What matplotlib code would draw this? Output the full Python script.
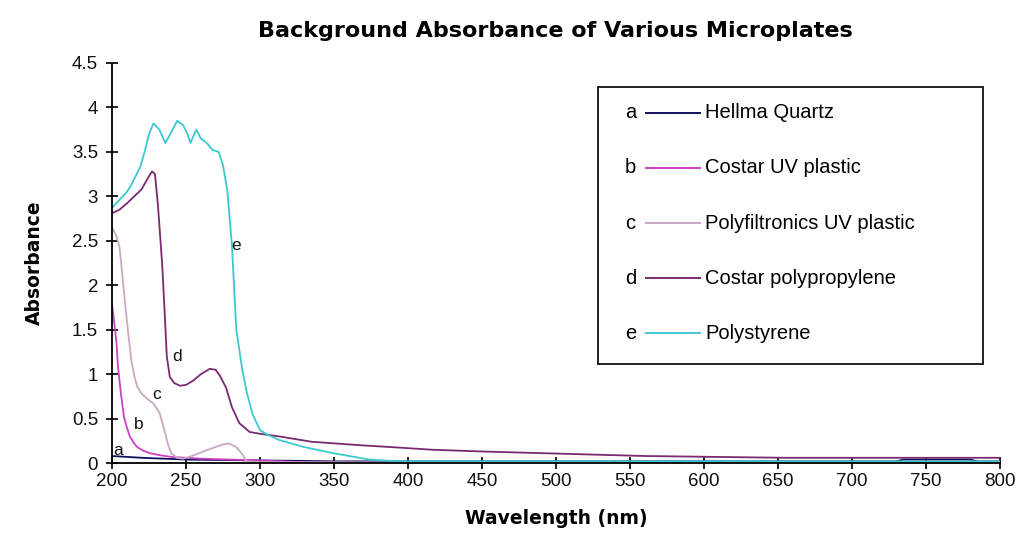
import matplotlib
matplotlib.use('Agg')
import matplotlib.pyplot as plt
from matplotlib.patches import Rectangle
from matplotlib.lines import Line2D

plt.rcParams['font.family'] = ['Liberation Sans', 'DejaVu Sans']

# Daten
a_wl = [200, 210, 220, 235, 250, 275, 300, 330, 350, 400, 500, 600, 700, 730, 735, 780, 785, 800]
a_abs = [0.08, 0.07, 0.06, 0.05, 0.04, 0.035, 0.03, 0.025, 0.02, 0.02, 0.02, 0.02, 0.02, 0.02, 0.04, 0.04, 0.02, 0.02]

b_wl = [200, 201, 203, 204, 206, 208, 210, 212, 215, 217, 221, 226, 232, 240, 260, 280, 300, 330, 400, 800]
b_abs = [1.78, 1.65, 1.35, 1.08, 0.78, 0.52, 0.40, 0.30, 0.22, 0.18, 0.14, 0.11, 0.09, 0.07, 0.05, 0.04, 0.03, 0.01, 0.0, 0.0]

c_wl = [200, 203, 205, 207, 209, 211, 213, 215, 217, 220, 224, 228, 232, 234, 236, 238, 240, 244, 248,
        254, 260, 268, 275, 279, 284, 288, 291, 300, 400, 800]
c_abs = [2.65, 2.55, 2.43, 2.10, 1.76, 1.45, 1.16, 0.98, 0.86, 0.78, 0.72, 0.67, 0.57, 0.45, 0.33, 0.20, 0.11, 0.06, 0.05,
         0.08, 0.12, 0.17, 0.21, 0.22, 0.18, 0.10, 0.02, 0.01, 0.01, 0.01]

d_wl = [200, 205, 210, 215, 220, 224, 227, 229, 231, 234, 237, 239, 242, 246, 250, 255, 260, 266, 270, 273,
        277, 281, 286, 293, 300, 313, 335, 369, 389, 417, 452, 495, 560, 655, 800]
d_abs = [2.81, 2.85, 2.92, 3.00, 3.08, 3.20, 3.28, 3.25, 2.90, 2.20, 1.20, 0.97, 0.90, 0.87, 0.88, 0.93, 1.00, 1.06, 1.05, 0.98,
         0.85, 0.63, 0.45, 0.35, 0.33, 0.30, 0.24, 0.20, 0.18, 0.15, 0.13, 0.11, 0.08, 0.06, 0.06]

e_wl = [200, 205, 210, 213, 219, 222, 225, 228, 232, 236, 240, 244, 248, 251, 253, 255, 257, 260, 264, 268,
        272, 275, 278, 281, 284, 288, 291, 295, 300, 305, 313, 330, 350, 374, 394, 450, 600, 800]
e_abs = [2.87, 2.96, 3.05, 3.13, 3.33, 3.50, 3.70, 3.82, 3.75, 3.60, 3.72, 3.85, 3.80, 3.70, 3.60, 3.68, 3.75, 3.65, 3.60, 3.52,
         3.50, 3.35, 3.05, 2.45, 1.50, 1.05, 0.80, 0.55, 0.37, 0.32, 0.26, 0.18, 0.11, 0.04, 0.02, 0.02, 0.02, 0.02]

letters = ['a', 'b', 'c', 'd', 'e']
names = ['Hellma Quartz', 'Costar UV plastic', 'Polyfiltronics UV plastic', 'Costar polypropylene', 'Polystyrene']
colors = ['#10105e', '#cc40c4', '#c8a8c4', '#7a2a70', '#3cc8d0']

# Positionen der Kurvenbeschriftungen (nm, Absorbance)
label_x = [204, 218, 230, 244, 284]
label_y = [0.14, 0.43, 0.77, 1.2, 2.45]

x_ticks = list(range(200, 801, 50))
y_ticks = [0, 0.5, 1, 1.5, 2, 2.5, 3, 3.5, 4, 4.5]

fig = plt.figure(figsize=(10.19, 5.52), dpi=100)
ax = fig.add_axes([0.110, 0.161, 0.871, 0.725])

series = [(a_wl, a_abs), (b_wl, b_abs), (c_wl, c_abs), (d_wl, d_abs), (e_wl, e_abs)]
for (wl, ab), col in zip(series, colors):
    ax.plot(wl, ab, color=col, lw=1.3)

for let, lx, ly in zip(letters, label_x, label_y):
    ax.text(lx, ly, let, fontsize=12.5, ha='center', va='center', color='#111111')

ax.set_xlim(200, 800)
ax.set_ylim(0, 4.5)
ax.set_xticks(x_ticks)
ax.set_yticks(y_ticks)
ax.set_yticklabels([f'{v:g}' for v in y_ticks])
ax.spines['top'].set_visible(False)
ax.spines['right'].set_visible(False)
ax.spines['left'].set_linewidth(1.3)
ax.spines['bottom'].set_linewidth(1.3)
ax.tick_params(direction='inout', length=8, width=1.3, labelsize=13.5, pad=3, colors='#111111')
ax.tick_params(axis='y', pad=6)

bold = ['DejaVu Sans']
ax.set_title('Background Absorbance of Various Microplates', fontsize=16, fontweight='bold',
             family=bold, pad=19)
ax.set_xlabel('Wavelength (nm)', fontsize=13.5, fontweight='bold', family=bold, labelpad=14)
ax.set_ylabel('Absorbance', fontsize=13.5, fontweight='bold', family=bold, labelpad=20)

# Legende im Excel-Stil: Buchstabe, Linie, Name
box = Rectangle((0.547, 0.248), 0.434, 0.693, transform=ax.transAxes, fill=False,
                edgecolor='#111111', lw=1.3, zorder=5)
ax.add_patch(box)
for i, (let, name, col) in enumerate(zip(letters, names, colors)):
    yy = 0.875 - i * 0.1375
    ax.text(0.584, yy, let, transform=ax.transAxes, fontsize=14.5, ha='center', va='center')
    ax.add_line(Line2D([0.602, 0.662], [yy, yy], transform=ax.transAxes, color=col, lw=1.4))
    ax.text(0.668, yy, name, transform=ax.transAxes, fontsize=14.5, ha='left', va='center')

fig.savefig('out.png', dpi=100)
